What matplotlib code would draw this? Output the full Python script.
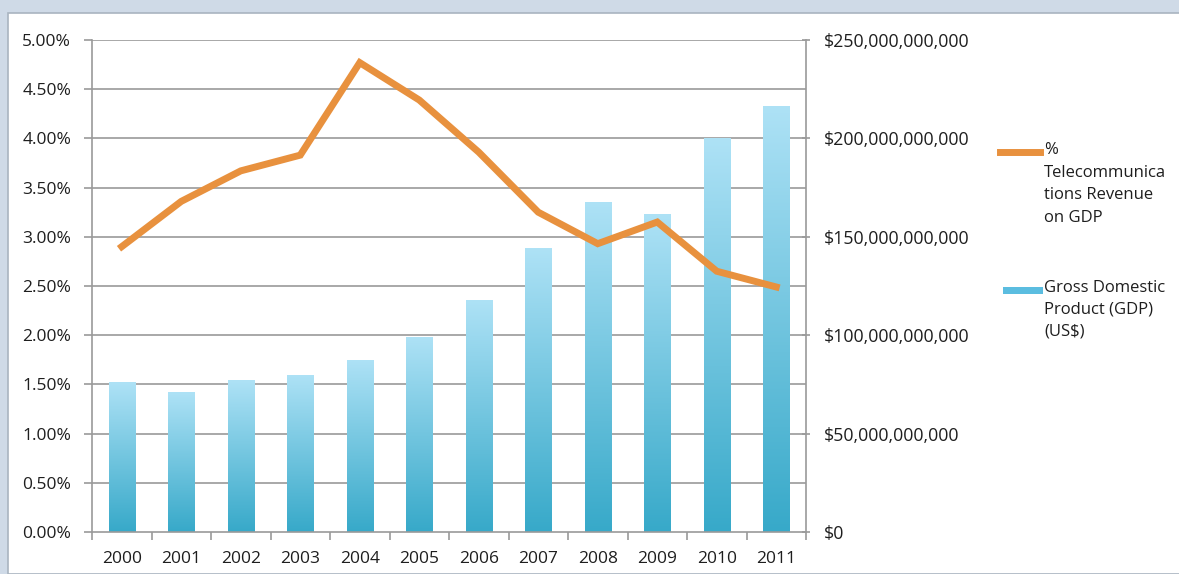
import matplotlib.pyplot as plt
import matplotlib.ticker as mticker
from matplotlib.patches import Rectangle
from matplotlib.lines import Line2D
import numpy as np

plt.rcParams['font.family'] = ['Open Sans', 'DejaVu Sans']

years = ['2000', '2001', '2002', '2003', '2004', '2005',
         '2006', '2007', '2008', '2009', '2010', '2011']
telecom_pct = [2.90, 3.36, 3.67, 3.83, 4.77, 4.39, 3.86, 3.25, 2.93, 3.15, 2.65, 2.49]
gdp_usd = [76.2e9, 71.1e9, 77.2e9, 79.8e9, 87.4e9, 99.1e9,
           117.9e9, 144.3e9, 167.7e9, 161.6e9, 200.2e9, 216.5e9]

W, H = 1179, 574
fig = plt.figure(figsize=(W / 100, H / 100), dpi=100)
fig.patch.set_facecolor('#cfdae7')

# white chart panel
fig.patches.append(Rectangle((8 / W, 0), 1.0, 1 - 13 / H, transform=fig.transFigure,
                             facecolor='white', edgecolor='#a9b4c0', lw=1.2, zorder=-5))

left, right, top, bottom = 92, 806, 40, 532
ax = fig.add_axes([left / W, 1 - bottom / H, (right - left) / W, (bottom - top) / H])
ax2 = ax.twinx()
ax.set_zorder(2)
ax2.set_zorder(1)
ax.patch.set_visible(False)
ax2.patch.set_visible(False)

x = np.arange(len(years))

# gradient bars on the right axis
grad = np.linspace(0, 1, 256).reshape(-1, 1)
cmap = plt.matplotlib.colors.LinearSegmentedColormap.from_list('b', ['#37a9c9', '#aee2f6'])
bars = ax2.bar(x, gdp_usd, width=0.44, color='none', edgecolor='none')
for b in bars:
    bx = b.get_x()
    bw, bh = b.get_width(), b.get_height()
    im = ax2.imshow(grad, extent=[bx, bx + bw, 0, bh], origin='lower', cmap=cmap,
                    aspect='auto', zorder=1)
    im.set_clip_path(b)
ax2.set_ylim(0, 250e9)
ax2.set_xlim(-0.5, len(years) - 0.5)
ax2.yaxis.set_major_locator(mticker.MultipleLocator(50e9))
ax2.yaxis.set_major_formatter(mticker.FuncFormatter(lambda v, p: '$0' if v == 0 else '${:,.0f}'.format(v)))
for v in np.arange(0.5, 5.01, 0.5):
    ax2.axhline(v * 50e9, color='#9a9a9a', lw=1.2, zorder=0.5)

ax.plot(x, telecom_pct, color='#e8913e', lw=5, solid_joinstyle='miter', zorder=3)
ax.set_ylim(0, 5)
ax.set_xlim(-0.5, len(years) - 0.5)
ax.yaxis.set_major_locator(mticker.MultipleLocator(0.5))
ax.yaxis.set_major_formatter(mticker.FuncFormatter(lambda v, p: '{:.2f}%'.format(v)))

txt = '#1e1e1e'
ax.set_xticks(x)
ax.set_xticklabels(years)
ax.set_xticks(np.arange(-0.5, len(years), 1), minor=True)
ax.tick_params(axis='x', which='major', length=0, pad=14, labelsize=12.5, colors=txt)
ax.tick_params(axis='x', which='minor', length=6, direction='out', color='#9a9a9a', width=1.2)
ax.tick_params(axis='y', length=6, direction='out', color='#9a9a9a', width=1.2,
               labelsize=12.5, labelcolor=txt, pad=9)
ax2.tick_params(axis='y', length=6, direction='inout', color='#9a9a9a', width=1.2,
                labelsize=12.8, labelcolor=txt, pad=10)
ax2.tick_params(axis='x', length=0, labelbottom=False)

for a in (ax, ax2):
    for s in a.spines.values():
        s.set_visible(False)
ax.spines['left'].set_visible(True)
ax.spines['bottom'].set_visible(True)
ax2.spines['right'].set_visible(True)
for s in (ax.spines['left'], ax.spines['bottom'], ax2.spines['right']):
    s.set_color('#9a9a9a')
    s.set_linewidth(1.2)

# legend
fig.lines.append(Line2D([1000 / W, 1040 / W], [1 - 152 / H, 1 - 152 / H], transform=fig.transFigure,
                        color='#e8913e', lw=5))
fig.text(1044 / W, 1 - 142 / H, '%\nTelecommunica\ntions Revenue\non GDP', ha='left', va='top',
         fontsize=12, color=txt, linespacing=1.55)
fig.patches.append(Rectangle((1003 / W, 1 - 294 / H), 40 / W, 7 / H, transform=fig.transFigure,
                             facecolor='#5bbde0', edgecolor='none'))
fig.text(1044 / W, 1 - 280 / H, 'Gross Domestic\nProduct (GDP)\n(US$)', ha='left', va='top',
         fontsize=12, color=txt, linespacing=1.5)

fig.savefig('out.png', dpi=100, facecolor=fig.get_facecolor())
